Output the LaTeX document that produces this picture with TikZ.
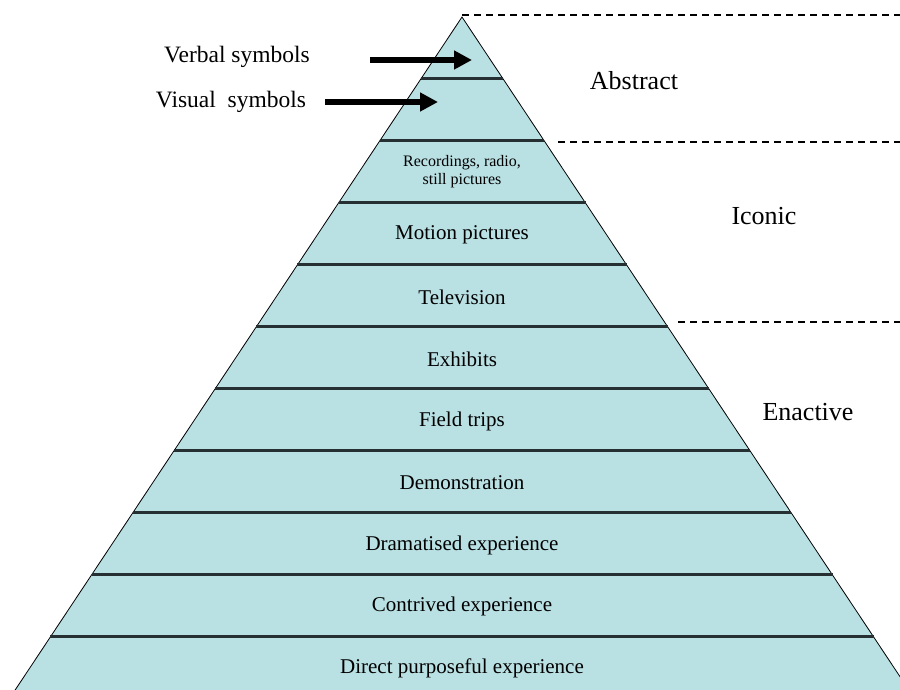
\documentclass[tikz,border=0pt]{standalone}
\usepackage{fontspec}
\setmainfont{Liberation Serif}
\usetikzlibrary{arrows.meta,calc}
\definecolor{bandfill}{RGB}{185,224,227}
\definecolor{bandline}{RGB}{38,48,50}
\begin{document}
\begin{tikzpicture}[x=1pt,y=-1pt,inner sep=0pt,outer sep=0pt,
band/.style={font=\fontsize{21}{24}\selectfont},
level/.style={font=\fontsize{26}{30}\selectfont},
symlabel/.style={font=\fontsize{23.5}{28}\selectfont},
pointer/.style={-{Triangle[length=18pt,width=18pt]},line width=6pt},
divide/.style={draw=black,dash pattern=on 7pt off 5pt,line width=1.5pt}]
\useasboundingbox (0,0) rectangle (900,690);
\clip (0,0) rectangle (900,690);
% pyramid
\coordinate (top) at (462,17);
\coordinate (bl) at (8.5,700);
\coordinate (br) at (915.5,700);
\filldraw[fill=bandfill,draw=black,line width=0.8pt] (top) -- (bl) -- (br) -- cycle;
\foreach \y in {79,141,...,637}
  \draw[bandline,line width=3pt] ($(top)!{(\y-17)/683}!(bl)$) -- ($(top)!{(\y-17)/683}!(br)$);
% band texts
\node[font=\fontsize{16}{18}\selectfont,align=center] (rec) at (462,172) {Recordings, radio,\\still pictures};
\foreach \y/\txt in {235/Motion pictures,297/Television,359/Exhibits,421/Field trips,
  483/Demonstration,545/Dramatised experience,606/Contrived experience,668/Direct purposeful experience}
  \node[band] (b\y) at (462,\y) {\txt};
% symbols and arrows
\node[symlabel] (verbal) at (237,57) {Verbal symbols};
\node[symlabel] (visual) at (231,102) {Visual\ \ symbols};
\coordinate (va) at (370,60);
\coordinate (vb) at (472,60);
\coordinate (wa) at (325,102);
\coordinate (wb) at (438,102);
\draw[pointer] (va) -- (vb);
\draw[pointer] (wa) -- (wb);
% levels
\coordinate (d1a) at (462,15);
\coordinate (d1b) at (900,15);
\coordinate (d2a) at (558,142);
\coordinate (d2b) at (900,142);
\coordinate (d3a) at (678,322);
\coordinate (d3b) at (900,322);
\draw[divide] (d1a) -- (d1b);
\draw[divide] (d2a) -- (d2b);
\draw[divide] (d3a) -- (d3b);
\node[level] (abstract) at (634,81) {Abstract};
\node[level] (iconic) at (764,216) {Iconic};
\node[level] (enactive) at (808,412) {Enactive};
\end{tikzpicture}
\end{document}
